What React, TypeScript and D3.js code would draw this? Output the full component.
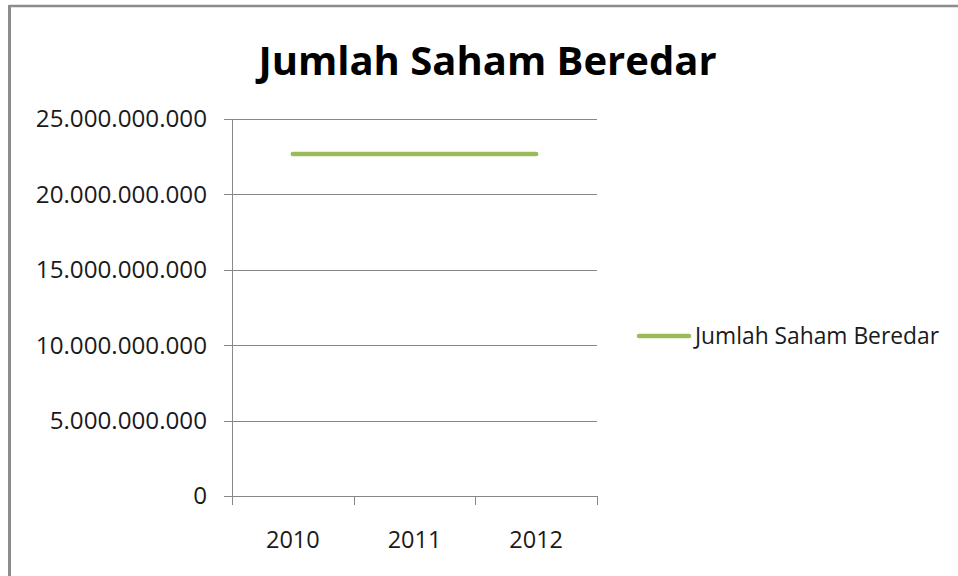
import React from "react";
import * as d3 from "d3";

const categories = ["2010", "2011", "2012"];
const seriesName = "Jumlah Saham Beredar";
const seriesValues = [22680000000, 22680000000, 22680000000];
const yTicks = [0, 5000000000, 10000000000, 15000000000, 20000000000, 25000000000];
const title = "Jumlah Saham Beredar";

const W = 958;
const H = 576;
const FONT = "'Open Sans', 'Noto Sans', sans-serif";

export default function App() {
  const locale = d3.formatLocale({ thousands: ".", grouping: [3], decimal: ",", currency: ["", ""] });
  const fmt = locale.format(",");
  const x = d3.scaleBand<string>().domain(categories).range([232, 597]).padding(0);
  const y = d3.scaleLinear().domain([0, 25000000000]).range([496, 119]);
  const line = d3
    .line<number>()
    .x((_, i) => (x(categories[i]) as number) + x.bandwidth() / 2)
    .y((d) => y(d));
  const gridColor = "#878787";
  const edges = [...categories.map((c) => x(c) as number), x.range()[1]];
  return (
    <div style={{ position: "absolute", left: 0, top: 0 }}>
      <svg width={W} height={H} style={{ display: "block", background: "#fff" }}>
        <rect x={0} y={0} width={W} height={H} fill="#fff" />
        {/* outer border */}
        <line x1={9.5} y1={6} x2={W + 5} y2={6} stroke="#8c8c8c" strokeWidth={2.5} />
        <line x1={9.5} y1={5} x2={9.5} y2={H + 5} stroke="#8c8c8c" strokeWidth={3} />
        <text x={487.5} y={75} textAnchor="middle" fontFamily={FONT} fontWeight="bold" fontSize={40} fill="#000">
          {title}
        </text>
        {/* gridlines and y ticks */}
        {yTicks.map((t) => (
          <g key={t}>
            <line x1={224} x2={597} y1={Math.round(y(t)) + 0.5} y2={Math.round(y(t)) + 0.5} stroke={gridColor} strokeWidth={1} />
            <text x={207} y={y(t)} dy="0.35em" textAnchor="end" fontFamily={FONT} fontSize={24.2} fill="#1a1a1a">
              {fmt(t)}
            </text>
          </g>
        ))}
        {/* y axis */}
        <line x1={232.5} x2={232.5} y1={119} y2={505} stroke={gridColor} strokeWidth={1} />
        {/* x ticks */}
        {edges.map((e, i) => (
          <line key={i} x1={Math.round(e) + 0.5} x2={Math.round(e) + 0.5} y1={496} y2={505} stroke={gridColor} strokeWidth={1} />
        ))}
        {categories.map((c) => (
          <text key={c} x={(x(c) as number) + x.bandwidth() / 2} y={540} dy="0.35em" textAnchor="middle" fontFamily={FONT} fontSize={23.5} fill="#1a1a1a">
            {c}
          </text>
        ))}
        <path d={line(seriesValues) || ""} fill="none" stroke="#9bbb59" strokeWidth={4.5} strokeLinecap="round" />
        {/* legend */}
        <line x1={639} x2={689} y1={336} y2={336} stroke="#9bbb59" strokeWidth={4.5} strokeLinecap="round" />
        <text x={695} y={336} dy="0.35em" fontFamily={FONT} fontSize={22.8} fill="#1a1a1a">
          {seriesName}
        </text>
      </svg>
    </div>
  );
}
